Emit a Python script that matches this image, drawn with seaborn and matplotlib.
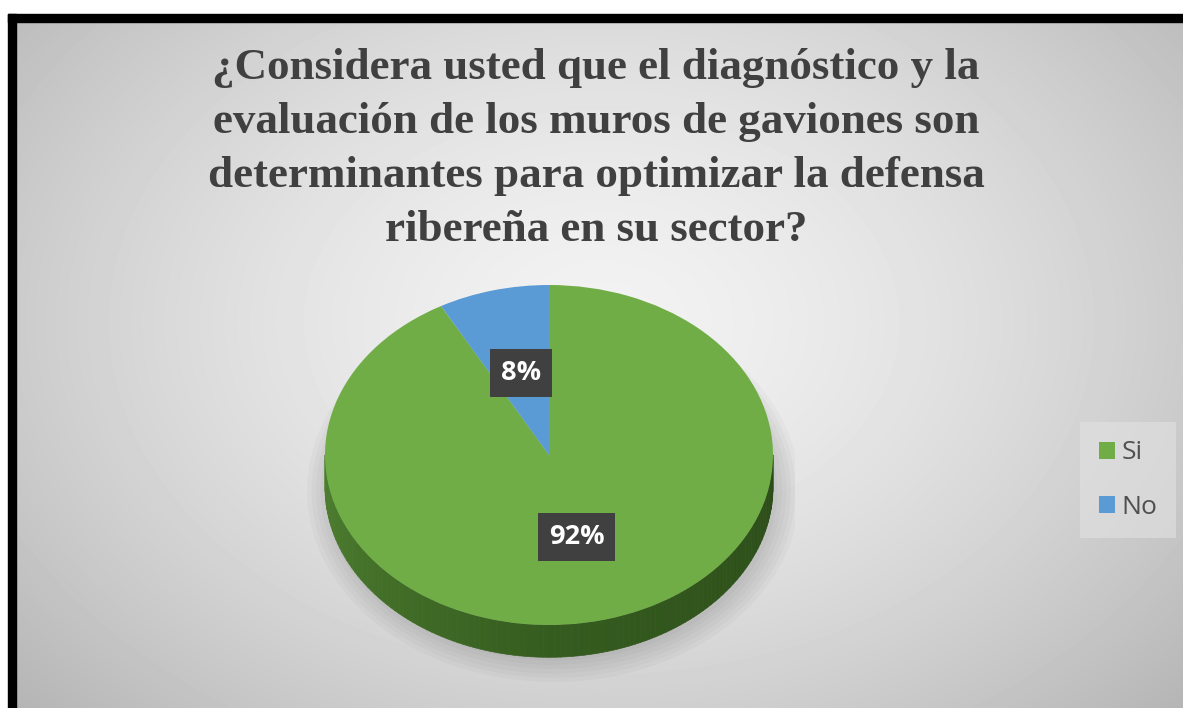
import numpy as np
import matplotlib
matplotlib.use("Agg")
import matplotlib.pyplot as plt
from matplotlib.patches import Rectangle, Ellipse
from matplotlib.collections import PolyCollection
import seaborn as sns

# --- data ---
categories = ["Si", "No"]
values = [92, 8]
colors = ["#70AD47", "#5B9BD5"]
title = ("¿Considera usted que el diagnóstico y la\n"
         "evaluación de los muros de gaviones son\n"
         "determinantes para optimizar la defensa\n"
         "ribereña en su sector?")

sns.set_theme(style="white")

W, H = 1183, 708
fig = plt.figure(figsize=(W / 100, H / 100), dpi=100)
fig.patch.set_facecolor("white")

# --- gradient background (inside the black frame) ---
bg = fig.add_axes([16 / W, 0, 1 - 16 / W, (H - 22) / H])
yy, xx = np.mgrid[0:686, 0:1167]
d = np.sqrt(((xx - 585) / 700) ** 2 + ((yy - 300) / 500) ** 2)
shade = 0.95 - 0.2 * np.clip(d, 0, 1.3) ** 1.5
bg.imshow(shade, cmap="gray", vmin=0, vmax=1, aspect="auto", interpolation="bilinear")
bg.set_axis_off()

# black frame (top + left)
fig.patches.append(Rectangle((8 / W, 0), 8 / W, (H - 14) / H, transform=fig.transFigure,
                             color="black", zorder=5))
fig.patches.append(Rectangle((8 / W, (H - 22) / H), 1 - 8 / W, 8 / H, transform=fig.transFigure,
                             color="black", zorder=5))

# --- title ---
fig.text(596 / W, 1 - 149 / H, title, ha="center", va="center",
         fontsize=32.4, fontweight="bold", family="Liberation Serif",
         color="#404040", linespacing=1.45)

# --- pie axes (3D-ish ellipse) ---
cx, cy, rx, ry = 549, 455, 224, 170
depth = 0.19
ylo, yhi = -1.35, 1.1
ax = fig.add_axes([(cx - 1.1 * rx) / W, (H - cy + ylo * ry) / H,
                   2.2 * rx / W, (yhi - ylo) * ry / H])

# soft shadow under the pie
for k in range(6):
    ax.add_patch(Ellipse((0.02, -depth - 0.02), 2.0 + 0.04 * k, 2.0 + 0.05 * k,
                         color="black", alpha=0.025, lw=0, zorder=0))

# side of the pie (front half, visible part)
th = np.linspace(np.pi, 2 * np.pi, 121)
polys, cols = [], []
dark_l = np.array([0x4E, 0x80, 0x30]) / 255
dark_m = np.array([0x35, 0x5C, 0x1F]) / 255
dark_r = np.array([0x2C, 0x4C, 0x19]) / 255
for a0, a1 in zip(th[:-1], th[1:]):
    polys.append([(np.cos(a0), np.sin(a0)), (np.cos(a1), np.sin(a1)),
                  (np.cos(a1), np.sin(a1) - depth), (np.cos(a0), np.sin(a0) - depth)])
    t = (a0 - np.pi) / np.pi
    c = dark_l + (dark_m - dark_l) * (t / 0.5) if t < 0.5 else dark_m + (dark_r - dark_m) * ((t - 0.5) / 0.5)
    cols.append(c)
ax.add_collection(PolyCollection(polys, facecolors=cols, edgecolors=cols, linewidths=0.5, zorder=1))

wedges, texts, autotexts = ax.pie(
    values, colors=colors, startangle=90, counterclock=False,
    autopct="%1.0f%%", pctdistance=0.5,
    wedgeprops=dict(linewidth=0, zorder=2),
    textprops=dict(color="white", fontsize=19.5, fontweight="bold", family="Open Sans"))
for t in autotexts:
    t.set_bbox(dict(boxstyle="square,pad=0.4", fc="#404040", ec="none"))
    t.set_zorder(4)

ax.set_aspect("auto")
ax.set_xlim(-1.1, 1.1)
ax.set_ylim(ylo, yhi)
ax.set_axis_off()

# --- legend ---
leg = fig.legend(wedges, categories, loc="center", bbox_to_anchor=(1128 / W, 1 - 480 / H),
                 frameon=True, fontsize=19, handlelength=0.6, handleheight=0.6,
                 handletextpad=0.25, labelspacing=1.1, borderpad=0.4)
leg.get_frame().set_facecolor("#e2e2e2")
leg.get_frame().set_alpha(0.6)
leg.get_frame().set_edgecolor("none")
leg.get_frame().set_boxstyle("square")
for t in leg.get_texts():
    t.set_color("#505050")
    t.set_family("Open Sans")

fig.savefig("out.png", dpi=100)
